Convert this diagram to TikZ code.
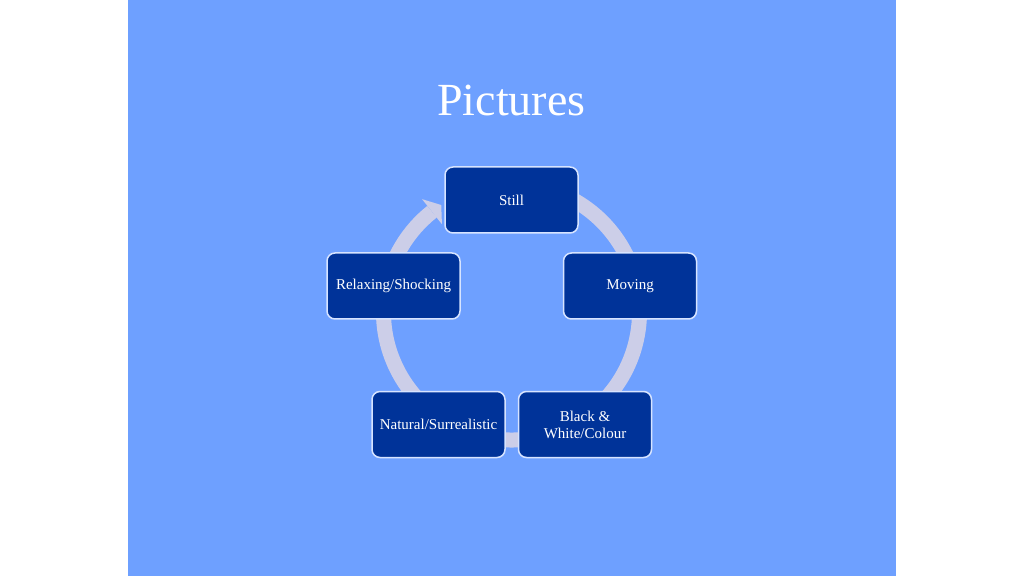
\documentclass[tikz,border=0pt]{standalone}
\usepackage{fontspec}
\setmainfont{Liberation Serif}
\usetikzlibrary{calc}
\definecolor{slidebg}{RGB}{110,160,255}
\definecolor{boxfill}{RGB}{0,51,153}
\definecolor{boxline}{RGB}{215,228,255}
\definecolor{ringcol}{RGB}{204,206,232}
\begin{document}
\begin{tikzpicture}[x=1pt,y=1pt,
  stagebox/.style={draw=boxline,line width=1.5pt,fill=boxfill,rounded corners=8pt,
    minimum width=133pt,minimum height=66pt,text=white,align=center,
    font=\fontsize{15}{17}\selectfont,inner sep=2pt},
  ring/.style={draw=ringcol,line width=15pt}]
\useasboundingbox (0,0) rectangle (1024,576);
\fill[white] (0,0) rectangle (1024,576);
\fill[slidebg] (128,0) rectangle (896,576);
\node[anchor=base,text=white,font=\fontsize{46}{50}\selectfont] (title) at (511.5,460) {Pictures};
\coordinate (c) at (511.5,264);
% ring
\draw[ring] ($(c)+(80:128)$) arc[start angle=80,end angle=-231.6,radius=128];
\fill[ringcol] ($(c)+(128.4:144)$) coordinate (w1) -- ($(c)+(123.3:128)$) coordinate (tip) -- ($(c)+(128.4:112)$) coordinate (w2) -- cycle;
% boxes
\node[stagebox] (still) at (511.5,376) {Still};
\node[stagebox] (moving) at (630,290) {Moving};
\node[stagebox] (bw) at (585,151.5) {Black \&\\White/Colour};
\node[stagebox] (nat) at (438.5,151.5) {Natural/Surrealistic};
\node[stagebox] (relax) at (393.5,290) {Relaxing/Shocking};
\end{tikzpicture}
\end{document}
